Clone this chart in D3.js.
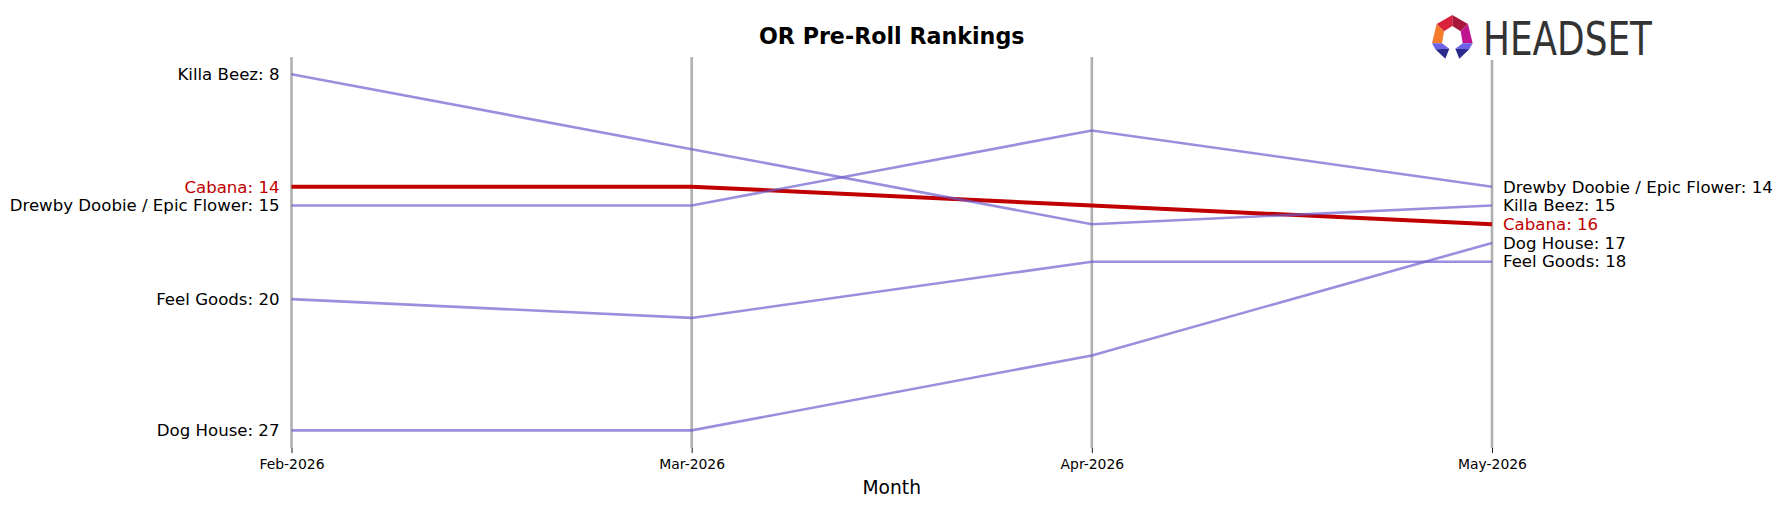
<!DOCTYPE html>
<html>
<head>
<meta charset="utf-8">
<script src="https://cdn.jsdelivr.net/npm/d3@7"></script>
<style>
  body { margin: 0; background: #fff; }
  svg { display: block; font-family: "DejaVu Sans", sans-serif; }
</style>
</head>
<body>
<div id="chart"></div>
<script>
// Data
const months = ["Feb-2026", "Mar-2026", "Apr-2026", "May-2026"]
const brands = ["Killa Beez", "Cabana", "Drewby Doobie / Epic Flower", "Feel Goods", "Dog House"]
const killaBeez = [8, 12, 16, 15]
const cabana = [14, 14, 15, 16]
const drewbyDoobie = [15, 15, 11, 14]
const feelGoods = [20, 21, 18, 18]
const dogHouse = [27, 27, 23, 17]
const highlight = "Cabana"

const rankSeries = [killaBeez, cabana, drewbyDoobie, feelGoods, dogHouse]
const dataset = brands.map((b, i) => ({ brand: b, ranks: rankSeries[i] }))

// Dimensions
const width = 1782
const height = 507
const dims = { left: 291.5, right: 1492, top: 57, bottom: 448 }

const xScale = d3.scalePoint()
    .domain(months)
    .range([dims.left, dims.right])

const yScale = d3.scaleLinear()
    .domain([7.08, 27.94])
    .range([dims.top, dims.bottom])

const purple = "#6a5acd"
const red = "#c00000"

const svg = d3.select("#chart")
    .append("svg")
    .attr("width", width)
    .attr("height", height)

// vertical month lines
svg.append("g")
    .selectAll("line")
    .data(months)
    .join("line")
    .attr("x1", d => xScale(d))
    .attr("x2", d => xScale(d))
    .attr("y1", dims.top)
    .attr("y2", dims.bottom)
    .attr("stroke", "#b0b0b0")
    .attr("stroke-width", 2.6)

// x axis
const xAxis = svg.append("g")
    .attr("transform", `translate(0,${dims.bottom})`)
    .call(d3.axisBottom(xScale).tickSize(5).tickPadding(6))
xAxis.select(".domain").remove()
xAxis.selectAll("text")
    .attr("font-family", "DejaVu Sans")
    .attr("font-size", 13.9)
    .attr("fill", "#000")
xAxis.selectAll(".tick line").attr("stroke", "#000").attr("stroke-width", 0.9)

svg.append("text")
    .attr("x", (dims.left + dims.right) / 2)
    .attr("y", 494)
    .attr("text-anchor", "middle")
    .attr("font-size", 18.7)
    .text("Month")

svg.append("text")
    .attr("x", (dims.left + dims.right) / 2)
    .attr("y", 43.5)
    .attr("text-anchor", "middle")
    .attr("font-size", 22.2)
    .attr("font-weight", "bold")
    .text("OR Pre-Roll Rankings")

const line = d3.line()
    .x((d, i) => xScale(months[i]))
    .y(d => yScale(d))

// highlighted line first, others drawn over it
const ordered = dataset.filter(d => d.brand === highlight)
    .concat(dataset.filter(d => d.brand !== highlight))

svg.append("g")
    .selectAll("path")
    .data(ordered)
    .join("path")
    .attr("d", d => line(d.ranks))
    .attr("fill", "none")
    .attr("stroke", d => d.brand === highlight ? red : purple)
    .attr("stroke-opacity", d => d.brand === highlight ? 1 : 0.68)
    .attr("stroke-width", d => d.brand === highlight ? 4 : 2.6)

// left labels
svg.append("g")
    .selectAll("text")
    .data(dataset)
    .join("text")
    .attr("x", dims.left - 12)
    .attr("y", d => yScale(d.ranks[0]))
    .attr("dy", "0.35em")
    .attr("text-anchor", "end")
    .attr("font-size", 16.6)
    .attr("fill", d => d.brand === highlight ? red : "#000")
    .text(d => `${d.brand}: ${d.ranks[0]}`)

// right labels
svg.append("g")
    .selectAll("text")
    .data(dataset)
    .join("text")
    .attr("x", dims.right + 11)
    .attr("y", d => yScale(d.ranks[months.length - 1]))
    .attr("dy", "0.35em")
    .attr("text-anchor", "start")
    .attr("font-size", 16.6)
    .attr("fill", d => d.brand === highlight ? red : "#000")
    .text(d => `${d.brand}: ${d.ranks[months.length - 1]}`)

// logo
const logo = svg.append("g")
logo.append("rect")
    .attr("x", 1420).attr("y", 0)
    .attr("width", 240).attr("height", 60)
    .attr("fill", "#fff")

const icon = logo.append("g")
    .attr("transform", "translate(1420,10) scale(0.3333)")
const pieces = [
    { c: "#d9213b", p: [[97,15],[50,42],[72,64],[97,48]] },
    { c: "#a8183a", p: [[97,15],[144,42],[122,64],[97,48]] },
    { c: "#f27c2a", p: [[50,42],[36,100],[66,100],[72,64]] },
    { c: "#c01590", p: [[144,42],[158,100],[128,100],[122,64]] },
    { c: "#6c63e6", p: [[36,100],[66,100],[88,116],[46,118]] },
    { c: "#6c63e6", p: [[158,100],[128,100],[106,116],[148,118]] },
    { c: "#2a2a8c", p: [[46,118],[88,116],[76,146]] },
    { c: "#2a2a8c", p: [[148,118],[106,116],[118,146]] }
]
icon.selectAll("polygon")
    .data(pieces)
    .join("polygon")
    .attr("points", d => d.p.map(q => q.join(",")).join(" "))
    .attr("fill", d => d.c)

logo.append("text")
    .attr("x", 1483)
    .attr("y", 55)
    .attr("font-family", "DejaVu Sans")
    .attr("font-size", 46)
    .attr("fill", "#333")
    .attr("textLength", 169)
    .attr("lengthAdjust", "spacingAndGlyphs")
    .text("HEADSET")
</script>
</body>
</html>
